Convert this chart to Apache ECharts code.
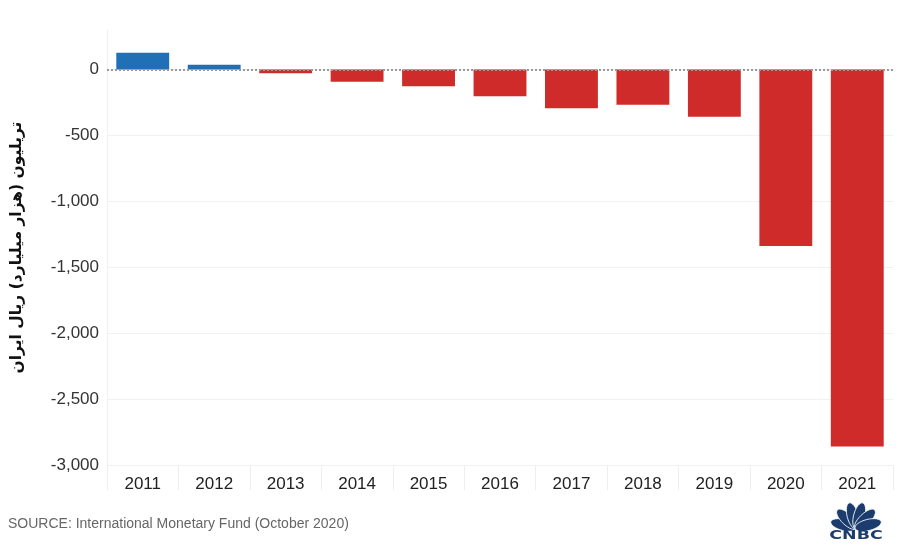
<!DOCTYPE html>
<html>
<head>
<meta charset="utf-8">
<script src="https://cdn.jsdelivr.net/npm/echarts@6/dist/echarts.min.js"></script>
<style>html,body{margin:0;padding:0;background:#fff}#c{width:900px;height:545px}</style>
</head>
<body>
<div id="c"></div>
<script>
const categories = ['2011','2012','2013','2014','2015','2016','2017','2018','2019','2020','2021'];
const values = [127, 36, -29, -92, -127, -202, -293, -268, -358, -1339, -2860];
const yTicks = [0, -500, -1000, -1500, -2000, -2500, -3000];
const yTitle = 'تریلیون (هزار میلیارد) ریال ایران';
const sourceText = 'SOURCE: International Monetary Fund (October 2020)';

const chart = echarts.init(document.getElementById('c'));
const feathers = [];
const fcx = 856, fcy = 528;
[-76, -46, -15, 15, 46, 76].forEach(function (deg) {
  const t = deg * Math.PI / 180;
  feathers.push({
    type: 'ellipse',
    x: fcx + 12.5 * Math.sin(t), y: fcy - 12.5 * Math.cos(t),
    rotation: -t,
    shape: { cx: 0, cy: 0, rx: 5.6, ry: 13.5 },
    style: { fill: '#1c3c6e', stroke: '#fff', lineWidth: 0.8 }
  });
});

chart.setOption({
  animation: false,
  grid: { left: 107, right: 7, top: 30, bottom: 80, outerBoundsMode: 'none' },
  xAxis: {
    type: 'category',
    data: categories,
    axisLine: { show: false, onZero: false },
    axisTick: { show: true, alignWithLabel: false, length: 25, lineStyle: { color: '#eeeeee' } },
    axisLabel: { color: '#222', fontSize: 17, fontFamily: 'Liberation Sans', margin: 11 },
    splitLine: { show: false }
  },
  yAxis: {
    type: 'value',
    min: -3000, max: 300, interval: 500,
    name: yTitle,
    nameLocation: 'middle',
    nameRotate: 90,
    nameGap: 82,
    nameTextStyle: { color: '#111', fontSize: 15.5, fontWeight: 'bold', fontFamily: 'DejaVu Sans' },
    axisLine: { show: true, lineStyle: { color: '#f0f0f0' } },
    axisTick: { show: false },
    axisLabel: {
      color: '#333', fontSize: 17, fontFamily: 'Liberation Sans', margin: 8,
      formatter: function (v) { return yTicks.indexOf(v) >= 0 ? v.toLocaleString('en-US') : ''; }
    },
    splitLine: { showMaxLine: false, lineStyle: { color: ['#f1f1f1'] } }
  },
  series: [{
    type: 'bar',
    data: values.map(function (v) {
      return { value: v, itemStyle: { color: v >= 0 ? '#2170b5' : '#d02b2b' } };
    }),
    barWidth: '74%',
    markLine: {
      silent: true, symbol: 'none', label: { show: false },
      lineStyle: { color: '#9a9a9a', type: 'dotted', width: 2 },
      data: [{ yAxis: 0 }]
    }
  }],
  graphic: [
    {
      type: 'text', left: 8, top: 517,
      style: { text: sourceText, fill: '#666', fontSize: 14, fontFamily: 'Liberation Sans' }
    }
  ].concat(feathers).concat([
    {
      type: 'text', x: 856, y: 536, scaleX: 1.45,
      style: { text: 'CNBC', fill: '#1c3c6e', fontSize: 12, fontWeight: 'bold', fontFamily: 'DejaVu Sans', align: 'center', verticalAlign: 'middle' }
    }
  ])
});
</script>
</body>
</html>
